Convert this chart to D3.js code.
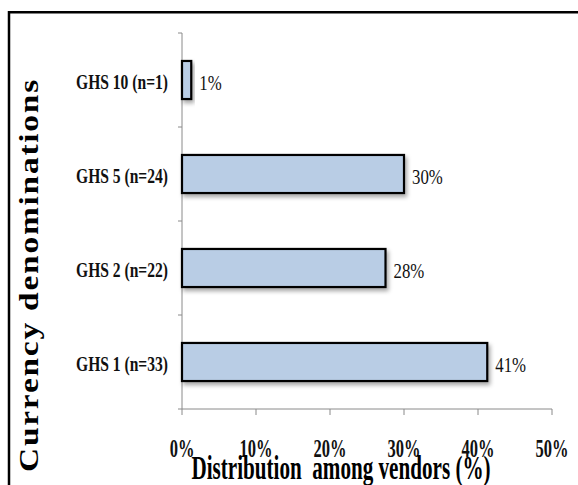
<!DOCTYPE html>
<html>
<head>
<meta charset="utf-8">
<script src="https://cdn.jsdelivr.net/npm/d3@7"></script>
<style>
  html, body { margin: 0; padding: 0; background: #fff; }
  svg { display: block; }
</style>
</head>
<body>
<svg id="chart" width="578" height="485"></svg>
<script>
// ---- data ----
const categories = ["GHS 1 (n=33)", "GHS 2 (n=22)", "GHS 5 (n=24)", "GHS 10 (n=1)"];
const values = [41.25, 27.5, 30, 1.25];
const valueLabels = ["41%", "28%", "30%", "1%"];
const xTicks = [0, 10, 20, 30, 40, 50];
const xTickLabels = ["0%", "10%", "20%", "30%", "40%", "50%"];
const xTitle = "Distribution  among vendors (%)";
const yTitle = "Currency denominations";

const svg = d3.select("#chart");
const W = 578, H = 485;
const serif = "'Liberation Serif', 'Times New Roman', serif";

// drop shadow filter
const defs = svg.append("defs");
const f = defs.append("filter").attr("id", "shadow")
  .attr("x", "-20%").attr("y", "-20%").attr("width", "150%").attr("height", "160%");
f.append("feDropShadow").attr("dx", 2).attr("dy", 3).attr("stdDeviation", 2)
  .attr("flood-color", "#000").attr("flood-opacity", 0.35);

// outer frame (left and top only visible)
svg.append("path")
  .attr("d", `M9,${H + 5} L9,12.2 L${W + 5},12.2`)
  .attr("fill", "none").attr("stroke", "#000").attr("stroke-width", 2.5);

// scales
const x = d3.scaleLinear().domain([0, 50]).range([182, 552]);
const y = d3.scaleBand().domain(categories).range([409, 33]).padding(0);
const bh = y.bandwidth() * 0.405;

const axisColor = "#8a8a8a";

// y axis line + boundary ticks
svg.append("line").attr("x1", x(0)).attr("x2", x(0)).attr("y1", 33).attr("y2", 409)
  .attr("stroke", axisColor).attr("stroke-width", 1);
const bounds = categories.map(c => y(c)).concat([409]);
svg.selectAll(".ytick").data(bounds).join("line")
  .attr("x1", x(0) - 4).attr("x2", x(0))
  .attr("y1", d => d).attr("y2", d => d)
  .attr("stroke", axisColor).attr("stroke-width", 1);

// x axis line + ticks
svg.append("line").attr("x1", x(0)).attr("x2", x(50)).attr("y1", 409).attr("y2", 409)
  .attr("stroke", axisColor).attr("stroke-width", 1);
svg.selectAll(".xtick").data(xTicks).join("line")
  .attr("x1", d => x(d)).attr("x2", d => x(d))
  .attr("y1", 409).attr("y2", 415)
  .attr("stroke", axisColor).attr("stroke-width", 1);

// helper: compress/stretch text horizontally along its run
function fit(sel, factor) {
  sel.each(function () {
    const len = this.getComputedTextLength();
    d3.select(this).attr("textLength", len * factor).attr("lengthAdjust", "spacingAndGlyphs");
  });
}

// bars
const data = categories.map((c, i) => ({ c, v: values[i], lab: valueLabels[i] }));
svg.selectAll(".bar").data(data).join("rect")
  .attr("class", "bar")
  .attr("x", x(0))
  .attr("y", d => y(d.c) + y.bandwidth() / 2 - bh / 2)
  .attr("width", d => x(d.v) - x(0))
  .attr("height", bh)
  .attr("fill", "#b9cde5")
  .attr("stroke", "#000")
  .attr("stroke-width", 2.2)
  .attr("filter", "url(#shadow)");

// value labels
svg.selectAll(".vlab").data(data).join("text")
  .attr("class", "vlab")
  .attr("x", d => x(d.v) + 8)
  .attr("y", d => y(d.c) + y.bandwidth() / 2 + 9.5)
  .attr("font-family", serif).attr("font-size", 21.5).attr("fill", "#111")
  .text(d => d.lab)
  .call(fit, 0.78);

// category labels
svg.selectAll(".clab").data(data).join("text")
  .attr("class", "clab")
  .attr("x", 168)
  .attr("y", d => y(d.c) + y.bandwidth() / 2 + 9)
  .attr("text-anchor", "end")
  .attr("font-family", serif).attr("font-size", 20.5).attr("font-weight", "bold").attr("fill", "#111")
  .text(d => d.c)
  .call(fit, 0.76);

// x tick labels
svg.selectAll(".xlab").data(xTicks).join("text")
  .attr("class", "xlab")
  .attr("x", d => x(d))
  .attr("y", 457)
  .attr("text-anchor", "middle")
  .attr("font-family", serif).attr("font-size", 25).attr("font-weight", "bold").attr("fill", "#111")
  .text((d, i) => xTickLabels[i])
  .call(fit, 0.66);

// x title
svg.append("text")
  .attr("x", 341).attr("y", 479)
  .attr("text-anchor", "middle")
  .style("white-space", "pre")
  .attr("font-family", serif).attr("font-size", 33).attr("font-weight", "bold").attr("fill", "#000")
  .text(xTitle)
  .call(fit, 0.64);

// y title (rotated, widened)
const yt = svg.append("text")
  .attr("transform", "translate(38,275) rotate(-90)")
  .attr("text-anchor", "middle")
  .attr("font-family", serif).attr("font-size", 28).attr("font-weight", "bold").attr("fill", "#000")
  .attr("letter-spacing", 1.5)
  .text(yTitle);
yt.attr("textLength", 394).attr("lengthAdjust", "spacingAndGlyphs");
</script>
</body>
</html>
